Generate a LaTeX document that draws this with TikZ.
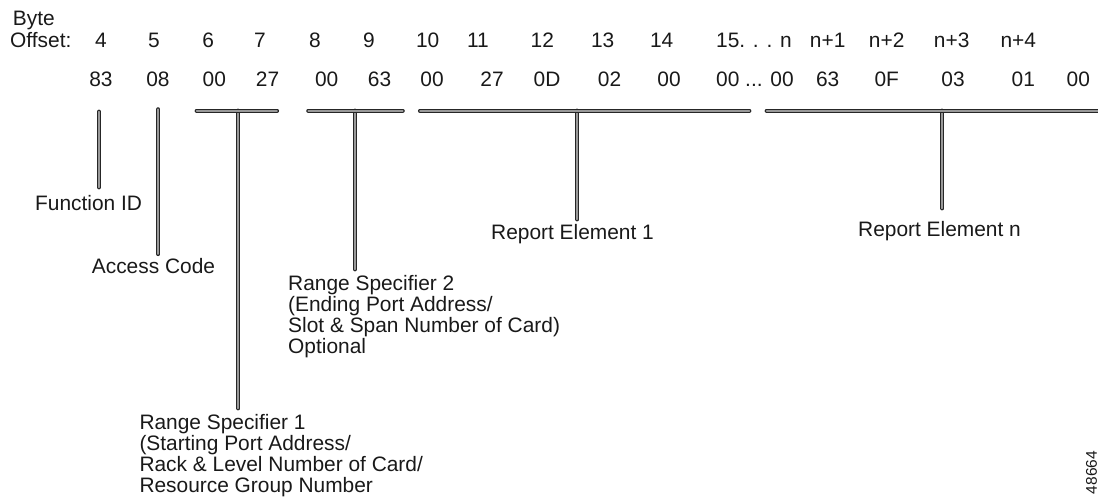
\documentclass[tikz,border=0pt]{standalone}
\usepackage{fontspec}
\setmainfont{Liberation Sans}
\begin{document}
\begin{tikzpicture}[x=1pt, y=-1pt,
  every node/.style={font=\fontsize{20.9}{21}\selectfont, text=black!90, inner sep=0pt},
  byte/.style={anchor=base},
  lbl/.style={anchor=north west, align=left},
  bar/.style={draw=black!85, line width=1.2pt, double=black!40, double distance=1.8pt, line cap=round}]

\useasboundingbox (0,0) rectangle (1098,498);

%%%%%%%%%%%% offsets and bytes
\node[anchor=base west] (hdr) at (12.7, 25) {Byte};
\node[anchor=base west] (ofs) at (10, 47.3) {Offset:};
\foreach \x/\t [count=\i] in {101/4, 154/5, 208.3/6, 260/7, 315/8, 369/9, 427.7/10,
    478/11, 542.3/12, 602.7/13, 661.7/14, 827.7/n+1, 886.7/n+2, 951.7/n+3, 1018.3/n+4}
  \node[byte] (off\i) at (\x, 47.3) {\t};
\node[anchor=base west] (offdots) at (716, 47.3) {15. . . n};

\foreach \x/\t [count=\i] in {101/83, 158/08, 214.3/00, 267.6/27, 326.7/00, 379.5/63,
    432/00, 492/27, 547/0D, 609.5/02, 669/00, 827.7/63, 886.7/0F, 953/03, 1023.3/01, 1078.3/00}
  \node[byte] (val\i) at (\x, 86.7) {\t};
\node[anchor=base west] (valdots) at (716, 86.7) {00 ... 00};

%%%%%%%%%%%% labels
\node[lbl] (fid) at (35, 195) {Function ID};
\node[lbl] (acc) at (91.7, 258.3) {Access Code};
\node[lbl] (rs2) at (288, 275) {Range Specifier 2\\(Ending Port Address/\\Slot \& Span Number of Card)\\Optional};
\node[lbl] (rs1) at (139.3, 414.3) {Range Specifier 1\\(Starting Port Address/\\Rack \& Level Number of Card/\\Resource Group Number};
\node[lbl, anchor=north] (re1) at (572.5, 224.3) {Report Element 1};
\node[lbl, anchor=north] (ren) at (939.5, 221) {Report Element n};
\node[font=\fontsize{15.5}{16}\selectfont, rotate=90] (fig) at (1091.5, 472.5) {48664};

%%%%%%%%%%%% brackets
\coordinate (b1l) at (196.7, 110.7);  \coordinate (b1r) at (277, 110.7);
\coordinate (b2l) at (308.3, 110.7);  \coordinate (b2r) at (402.7, 110.7);
\coordinate (b3l) at (420, 110.7);    \coordinate (b3r) at (749.3, 110.7);
\coordinate (b4l) at (766.7, 110.7);  \coordinate (b4r) at (1099, 110.7);

\coordinate (t1) at (238.3, 110.7);  \coordinate (e1) at (238.3, 408.3);
\coordinate (t2) at (355, 110.7);    \coordinate (e2) at (355, 269.3);
\coordinate (t3) at (577.3, 110.7);  \coordinate (e3) at (577.3, 219.3);
\coordinate (t4) at (942.3, 110.7);  \coordinate (e4) at (942.3, 208.3);
\coordinate (tf) at (99, 111.7);     \coordinate (ef) at (99, 187.3);
\coordinate (ta) at (158.3, 109.3);  \coordinate (ea) at (158.3, 254);

\foreach \i in {1,2,3,4,f,a}
  \draw[bar] (t\i) -- (e\i);
\foreach \i in {1,2,3,4}
  \draw[bar] (b\i l) -- (b\i r);

\end{tikzpicture}
\end{document}
